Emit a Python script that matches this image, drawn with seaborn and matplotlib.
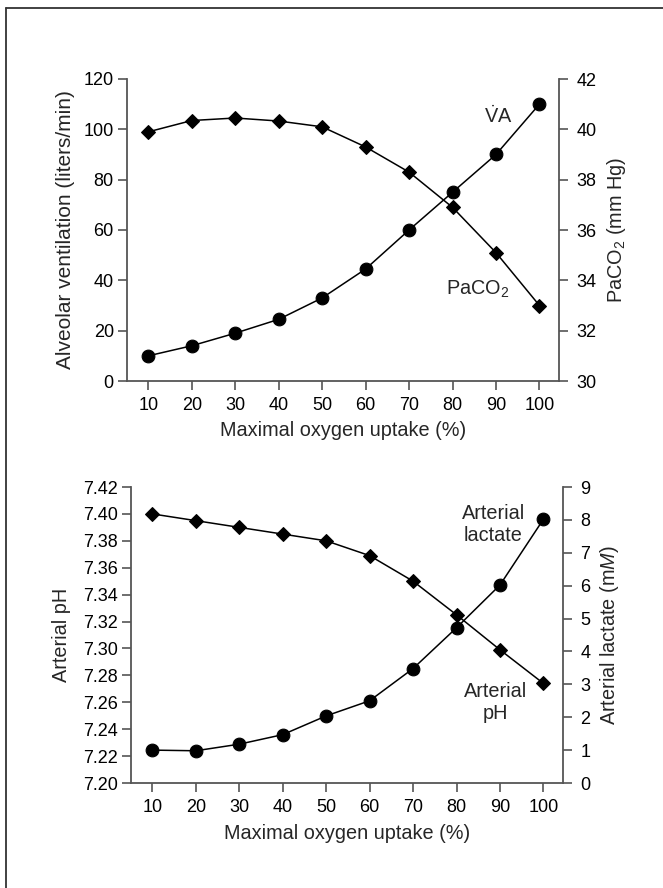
import matplotlib
matplotlib.use("Agg")
import matplotlib.pyplot as plt
from matplotlib.lines import Line2D
from matplotlib.ticker import FormatStrFormatter
import seaborn as sns
import numpy as np

# ---------------- data ----------------
uptake = [10, 20, 30, 40, 50, 60, 70, 80, 90, 100]
alveolar_vent = [10, 14, 19, 24.5, 33, 44.5, 60, 75, 90, 110]
paco2 = [39.9, 40.35, 40.45, 40.33, 40.1, 39.3, 38.3, 36.9, 35.1, 33.0]
arterial_ph = [7.400, 7.395, 7.390, 7.385, 7.380, 7.369, 7.350, 7.325, 7.299, 7.274]
arterial_lactate = [1.0, 0.98, 1.18, 1.47, 2.04, 2.5, 3.48, 4.72, 6.02, 8.02]

x_ticks = [10, 20, 30, 40, 50, 60, 70, 80, 90, 100]
va_ticks = [0, 20, 40, 60, 80, 100, 120]
paco2_ticks = [30, 32, 34, 36, 38, 40, 42]
ph_ticks = [7.20, 7.22, 7.24, 7.26, 7.28, 7.30, 7.32, 7.34, 7.36, 7.38, 7.40, 7.42]
lactate_ticks = [0, 1, 2, 3, 4, 5, 6, 7, 8, 9]

# ---------------- style ----------------
sns.set_theme(style="ticks")
plt.rcParams["font.family"] = ["Liberation Sans", "DejaVu Sans"]
plt.rcParams["mathtext.fontset"] = "custom"
plt.rcParams["mathtext.rm"] = "Liberation Sans"
plt.rcParams["mathtext.it"] = "Liberation Sans:italic"
plt.rcParams["mathtext.bf"] = "Liberation Sans:bold"

SPINE = "#555555"
FS_TICK = 13
FS_LAB = 14.3

W, H = 663, 888
fig = plt.figure(figsize=(W / 100, H / 100), dpi=100)
fig.patch.set_facecolor("white")


def px_axes(l, r, t, b):
    return [l / W, 1 - b / H, (r - l) / W, (b - t) / H]


def style_axes(ax, ax2):
    for a in (ax, ax2):
        a.spines["top"].set_visible(False)
        for s in ("left", "right", "bottom"):
            a.spines[s].set_color(SPINE)
            a.spines[s].set_linewidth(1.3)
        a.set_facecolor("none")
    ax.spines["right"].set_visible(False)
    ax2.spines["left"].set_visible(False)
    ax2.spines["bottom"].set_visible(False)
    ax.tick_params(axis="y", direction="out", length=6.5, width=1.2, color=SPINE,
                   labelsize=FS_TICK, pad=3, labelcolor="black")
    ax.tick_params(axis="x", direction="out", length=6.5, width=1.2, color=SPINE,
                   labelsize=FS_TICK, pad=5, labelcolor="black")
    ax2.tick_params(axis="y", direction="out", length=6.5, width=1.2, color=SPINE,
                    labelsize=FS_TICK, pad=6, labelcolor="black")
    ax.set_xlim(5.1, 104.5)
    ax.set_xticks(x_ticks)
    ax.grid(False)
    ax2.grid(False)


line_kw = dict(color="black", linewidth=1.1, markeredgecolor="black",
               markerfacecolor="black", legend=False)

# ---------------- top panel ----------------
ax1 = fig.add_axes(px_axes(127, 559, 79, 381))
ax1b = ax1.twinx()
sns.lineplot(x=uptake, y=alveolar_vent, marker="o", markersize=9.2, ax=ax1, **line_kw)
sns.lineplot(x=uptake, y=paco2, marker="D", markersize=7.5, ax=ax1b, **line_kw)
style_axes(ax1, ax1b)
ax1.set_ylim(0, 120)
ax1.set_yticks(va_ticks)
ax1b.set_ylim(30, 42)
ax1b.set_yticks(paco2_ticks)
ax1.set_xlabel("Maximal oxygen uptake (%)", fontsize=FS_LAB)
ax1.set_ylabel("Alveolar ventilation (liters/min)", fontsize=15)
ax1b.set_ylabel(r"PaCO$_2$ (mm Hg)", fontsize=FS_LAB, rotation=90)
ax1.xaxis.set_label_coords(0.5, -0.165)
ax1.yaxis.set_label_coords(-0.1435, 0.5)
ax1b.yaxis.set_label_coords(1.134, 0.5)
for lab in (ax1.yaxis.label, ax1b.yaxis.label):
    lab.set_ha("center")
    lab.set_va("center")
ax1.xaxis.label.set_va("center")
ax1.text(93.8, 102.5, r"$\dot{\mathrm{V}}\mathrm{A}$", fontsize=FS_LAB,
         ha="right", va="baseline")
ax1.text(93.2, 36.5, r"PaCO$_2$", fontsize=FS_LAB, ha="right", va="center")

# ---------------- bottom panel ----------------
ax2 = fig.add_axes(px_axes(131, 563, 487, 783))
ax2b = ax2.twinx()
sns.lineplot(x=uptake, y=arterial_ph, marker="D", markersize=7.5, ax=ax2, **line_kw)
sns.lineplot(x=uptake, y=arterial_lactate, marker="o", markersize=9.2, ax=ax2b, **line_kw)
style_axes(ax2, ax2b)
ax2.set_ylim(7.20, 7.42)
ax2.set_yticks(ph_ticks)
ax2.yaxis.set_major_formatter(FormatStrFormatter("%.2f"))
ax2b.set_ylim(0, 9)
ax2b.set_yticks(lactate_ticks)
ax2.set_xlabel("Maximal oxygen uptake (%)", fontsize=FS_LAB)
ax2.set_ylabel("Arterial pH", fontsize=FS_LAB)
ax2b.set_ylabel(r"Arterial lactate (m$\mathit{M}$)", fontsize=FS_LAB, rotation=90)
ax2.xaxis.set_label_coords(0.5, -0.169)
ax2.yaxis.set_label_coords(-0.162, 0.5)
ax2b.yaxis.set_label_coords(1.108, 0.5)
for lab in (ax2.yaxis.label, ax2b.yaxis.label):
    lab.set_ha("center")
    lab.set_va("center")
ax2.xaxis.label.set_va("center")
ax2.text(88.5, 7.3925, "Arterial\nlactate", fontsize=FS_LAB, ha="center",
         va="center", linespacing=1.2)
ax2.text(89.0, 7.260, "Arterial\npH", fontsize=FS_LAB, ha="center",
         va="center", linespacing=1.2)

# ---------------- page frame (left and top edges) ----------------
x0 = 5.5 / W
y0 = 1 - 8 / H
fig.add_artist(Line2D([x0, x0], [0, y0], transform=fig.transFigure,
                      color="#333333", linewidth=1.3))
fig.add_artist(Line2D([x0, 1], [y0, y0], transform=fig.transFigure,
                      color="#333333", linewidth=1.3))

fig.savefig("out.png", dpi=100, facecolor="white")
